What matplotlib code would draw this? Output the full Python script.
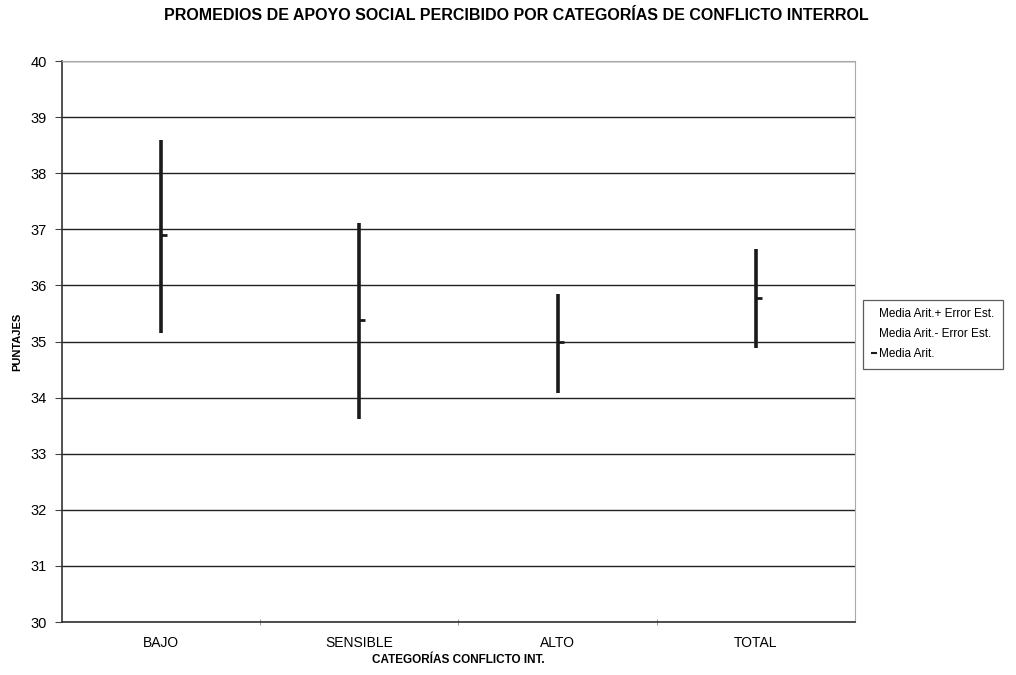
import matplotlib.pyplot as plt
import numpy as np
from matplotlib.lines import Line2D
from matplotlib.path import Path

plt.rcParams['font.family'] = ['Liberation Sans', 'DejaVu Sans']

categorias = ['BAJO', 'SENSIBLE', 'ALTO', 'TOTAL']
media_mas_error = [38.59, 37.11, 35.85, 36.65]
media_menos_error = [35.15, 33.62, 34.08, 34.88]
media = [36.90, 35.38, 34.99, 35.78]
y_ticks = np.arange(30, 41, 1)

fig = plt.figure(figsize=(10.16, 6.75), dpi=100)
ax = fig.add_axes([0.061, 0.0785, 0.7805, 0.8311])

x = np.arange(len(categorias))

# high-low lines
ax.vlines(x, media_menos_error, media_mas_error, colors='#1a1a1a', linewidth=2.6, zorder=3)

# mean tick to the right of the line (Excel-style close marker)
close_marker = Path([(0, 0), (1, 0)], [Path.MOVETO, Path.LINETO])
ax.plot(x, media, linestyle='none', marker=close_marker, markersize=8,
        markeredgewidth=2.0, color='#1a1a1a', zorder=4)

ax.set_xlim(-0.5, len(categorias) - 0.5)
ax.set_ylim(30, 40)
ax.set_yticks(y_ticks)
ax.set_yticklabels([str(v) for v in y_ticks], fontsize=10.5)
ax.yaxis.grid(True, color='#222222', linewidth=1.0)
ax.set_axisbelow(True)

ax.set_xticks(x)
ax.set_xticklabels(categorias, fontsize=10)
ax.tick_params(axis='x', which='major', length=0, pad=10)
ax.set_xticks(np.arange(0.5, len(categorias) - 0.5, 1), minor=True)
ax.tick_params(axis='x', which='minor', length=5, direction='inout', color='#888888')
ax.tick_params(axis='y', length=5, color='#444444', pad=6)

for side in ['top', 'right']:
    ax.spines[side].set_color('#aaaaaa')
    ax.spines[side].set_linewidth(0.8)
for side in ['left', 'bottom']:
    ax.spines[side].set_color('#333333')
    ax.spines[side].set_linewidth(1.2)

ax.set_xlabel('CATEGORÍAS CONFLICTO INT.', fontsize=8.5, fontweight='bold', labelpad=3)
ax.set_ylabel('PUNTAJES', fontsize=8, fontweight='bold', labelpad=6)
fig.suptitle('PROMEDIOS DE APOYO SOCIAL PERCIBIDO POR CATEGORÍAS DE CONFLICTO INTERROL',
             fontsize=11.5, fontweight='bold', x=0.508, y=0.988)

handles = [
    Line2D([], [], linestyle='none'),
    Line2D([], [], linestyle='none'),
    Line2D([], [], linestyle='none', marker='_', markersize=5, markeredgewidth=1.5, color='#1a1a1a'),
]
labels = ['Media Arit.+ Error Est.', 'Media Arit.- Error Est.', 'Media Arit.']
leg = fig.legend(handles, labels, loc='upper left', bbox_to_anchor=(0.849, 0.556),
                 fontsize=8.5, frameon=True, fancybox=False, handlelength=0.6,
                 handletextpad=0.1, borderpad=0.7, labelspacing=0.7, borderaxespad=0)
leg.get_frame().set_edgecolor('#333333')
leg.get_frame().set_linewidth(0.9)

fig.savefig('out.png', dpi=100)
